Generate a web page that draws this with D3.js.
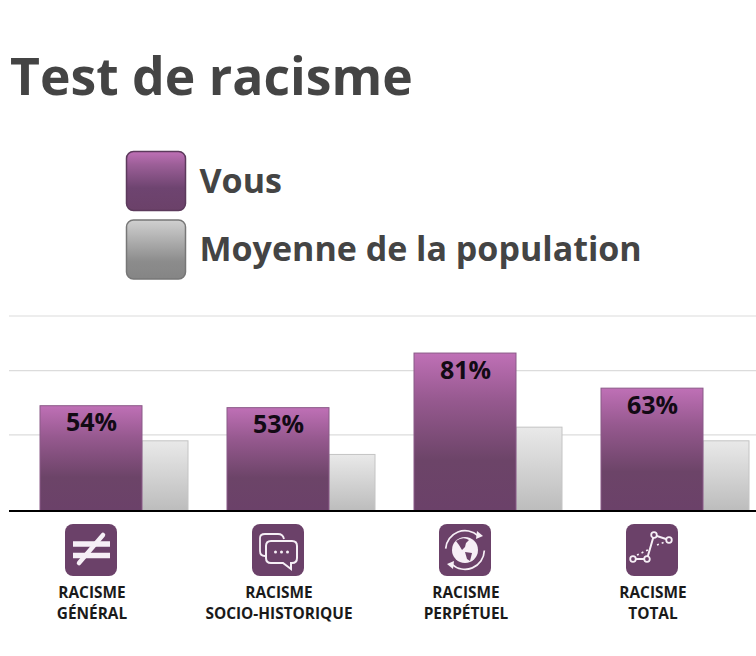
<!DOCTYPE html>
<html><head><meta charset="utf-8">
<script src="https://cdnjs.cloudflare.com/ajax/libs/d3/7.8.5/d3.min.js"></script>
<style>html,body{margin:0;padding:0;background:#fff;overflow:hidden}svg{display:block}text{font-family:"Open Sans",sans-serif;font-weight:700}</style>
</head><body>
<svg id="c" width="756" height="656"></svg>
<script>
const titleText = "Test de racisme";
const seriesNames = ["Vous", "Moyenne de la population"];
const categories = ["RACISME GÉNÉRAL", "RACISME SOCIO-HISTORIQUE", "RACISME PERPÉTUEL", "RACISME TOTAL"];
const labelLine1 = ["RACISME", "RACISME", "RACISME", "RACISME"];
const labelLine2 = ["GÉNÉRAL", "SOCIO-HISTORIQUE", "PERPÉTUEL", "TOTAL"];
const youValues = [54, 53, 81, 63];
const avgValues = [36, 29, 43, 36];
const gridValues = [39, 72, 100];

const svg = d3.select("#c");
const defs = svg.append("defs");
function grad(id, stops){
  const g = defs.append("linearGradient").attr("id", id).attr("x1",0).attr("y1",0).attr("x2",0).attr("y2",1);
  stops.forEach(s => g.append("stop").attr("offset", s[0]).attr("stop-color", s[1]));
}
grad("gPurple", [[0,"#bf70b6"],[0.22,"#9c5f98"],[0.62,"#6e4470"],[1,"#6b4169"]]);
grad("gBarPurple", [[0,"#bf70b6"],[0.3,"#96598f"],[0.68,"#6c4468"],[1,"#6b4169"]]);
grad("gGrey", [[0,"#e9e9e9"],[1,"#bcbcbc"]]);
grad("gLegendGrey", [[0,"#d0d0d0"],[0.7,"#8c8c8c"],[1,"#858585"]]);

const y = d3.scaleLinear().domain([0,100]).range([511,316]);
const x = d3.scaleBand().domain(categories).range([40,749]).paddingInner(39/187).paddingOuter(0);
const youW = 102, avgW = 46;

svg.append("text").attr("x",10).attr("y",95).attr("font-size",51.7).attr("fill","#444").text(titleText);

const legendY = d3.scaleBand().domain(seriesNames).range([151,279]).paddingInner(9/68).paddingOuter(0);
const legend = svg.selectAll(".leg").data(seriesNames).join("g");
legend.append("rect").attr("x",126.5).attr("y",d=>legendY(d)+.5).attr("width",59).attr("height",59).attr("rx",7)
  .attr("fill",(d,i)=>i?"url(#gLegendGrey)":"url(#gPurple)")
  .attr("stroke",(d,i)=>i?"#777":"#5c3a5c").attr("stroke-width",1.5);
legend.append("text").attr("x",199.5).attr("y",d=>legendY(d)+41.5).attr("font-size",34).attr("fill","#444").text(d=>d);

svg.selectAll(".grid").data(gridValues).join("line")
  .attr("x1",9).attr("x2",756).attr("y1",d=>y(d)).attr("y2",d=>y(d))
  .attr("stroke","#dcdcdc").attr("stroke-width",1.2);

const groups = svg.selectAll(".grp").data(categories).join("g").attr("transform",d=>`translate(${x(d)},0)`);
groups.append("rect").attr("x",youW).attr("width",avgW)
  .attr("y",(d,i)=>y(avgValues[i])).attr("height",(d,i)=>y(0)-y(avgValues[i]))
  .attr("fill","url(#gGrey)").attr("stroke","#c4c4c4").attr("stroke-width",1);
groups.append("rect").attr("x",0).attr("width",youW)
  .attr("y",(d,i)=>y(youValues[i])).attr("height",(d,i)=>y(0)-y(youValues[i]))
  .attr("fill","url(#gBarPurple)").attr("stroke","#8a5a88").attr("stroke-width",1);
groups.append("text").attr("x",youW/2+.5).attr("y",(d,i)=>y(youValues[i])+25.5).attr("text-anchor","middle")
  .attr("font-size",25).attr("fill","#120a14").text((d,i)=>youValues[i]+"%");

svg.append("line").attr("x1",9).attr("x2",756).attr("y1",y(0)).attr("y2",y(0)).attr("stroke","#000").attr("stroke-width",2);

groups.append("text").attr("x",youW/2+1).attr("y",597.5).attr("text-anchor","middle").attr("font-size",15.4).attr("fill","#1a1a1a").text((d,i)=>labelLine1[i]);
groups.append("text").attr("x",youW/2+1).attr("y",618.5).attr("text-anchor","middle").attr("font-size",15.4).attr("fill","#1a1a1a").text((d,i)=>labelLine2[i]);

// Icons
const icons = groups.append("g").attr("transform",`translate(${youW/2},550)`);
icons.append("rect").attr("x",-26).attr("y",-26).attr("width",52).attr("height",52).attr("rx",8).attr("fill","#6b4169");
const ink = "#f6eff6";
function stroke(sel,w){return sel.attr("fill","none").attr("stroke",ink).attr("stroke-width",w);}
// not equal
const i0 = d3.select(icons.nodes()[0]);
stroke(i0.append("path").attr("d","M-18,-6H19M-18,5.5H19"),5.5);
stroke(i0.append("path").attr("d","M-12,13L12,-15").attr("stroke-linecap","round"),4.5);
// speech bubbles
const i1 = d3.select(icons.nodes()[1]);
stroke(i1.append("path").attr("d","M-8,6H-13Q-18,6 -18,1V-12Q-18,-16 -13,-16H0Q5,-16 6,-11"),1.8);
i1.append("path").attr("d","M-7,-9H14Q19,-9 19,-4V8Q19,13 14,13H13L13,19L5,13H-7Q-12,13 -12,8V-4Q-12,-9 -7,-9Z")
  .attr("fill","#6b4169").attr("stroke",ink).attr("stroke-width",2);
i1.selectAll(".dot").data([-2.5,3.5,9.5]).join("circle").attr("cx",d=>d).attr("cy",2).attr("r",1.5).attr("fill",ink);
// globe with arrows
const i2 = d3.select(icons.nodes()[2]);
i2.append("circle").attr("r",13).attr("fill",ink);
i2.append("path").attr("d","M-9,-9Q-2,-14 4,-10L1,-7L0,-3L-3,0L-6,-5Z M0,2L7,3L5,11L2,9Z").attr("fill","#6b4169");
const arc = d3.arc().innerRadius(18.5).outerRadius(20.2);
i2.append("path").attr("d",arc({startAngle:-1.5,endAngle:0.75})).attr("fill",ink);
i2.append("path").attr("d",arc({startAngle:1.6,endAngle:3.9})).attr("fill",ink);
i2.append("path").attr("d","M12,-19L18,-14L11,-11Z").attr("fill",ink);
i2.append("path").attr("d","M-12,19L-18,14L-11,11Z").attr("fill",ink);
// line with nodes
const i3 = d3.select(icons.nodes()[3]);
const nodes = [[-19,9],[-5,9],[2,-15],[17,-10]];
stroke(i3.append("path").attr("d",d3.line()(nodes)),2);
stroke(i3.append("path").attr("d","M-15,5L-2,-1M5,-5L13,-8").attr("stroke-dasharray","2 3"),1.6);
i3.selectAll(".n").data(nodes).join("circle").attr("cx",d=>d[0]).attr("cy",d=>d[1]).attr("r",2.8)
  .attr("fill","#6b4169").attr("stroke",ink).attr("stroke-width",1.8);
</script>
</body></html>
